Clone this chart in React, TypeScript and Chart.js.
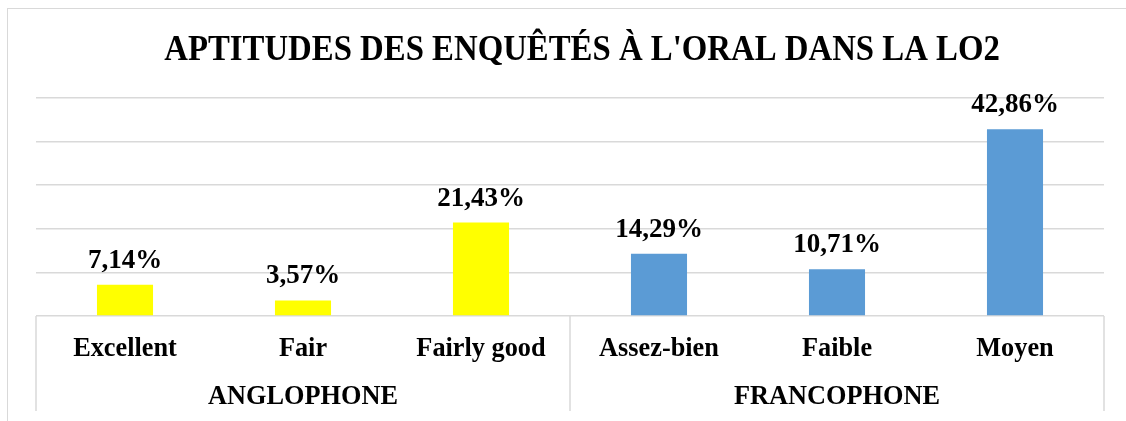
import React, { useEffect, useRef } from "react";
import { Chart, registerables } from "chart.js";

Chart.register(...registerables);

const title = "APTITUDES DES ENQUÊTÉS À L'ORAL DANS LA LO2";
const categories = ["Excellent", "Fair", "Fairly good", "Assez-bien", "Faible", "Moyen"];
const groups = ["ANGLOPHONE", "FRANCOPHONE"];
const groupSizes = [3, 3];
const values = [7.14, 3.57, 21.43, 14.29, 10.71, 42.86];
const barColors = ["#FFFF00", "#FFFF00", "#FFFF00", "#5B9BD5", "#5B9BD5", "#5B9BD5"];
const yMax = 50;
const yStep = 10;

const FONT = '"Liberation Serif", "Times New Roman", serif';
const GRID = "#d9d9d9";

const fmt = (v: number) => v.toFixed(2).replace(".", ",") + "%";

const overlay = {
  id: "overlay",
  afterDraw(chart: any) {
    const ctx = chart.ctx;
    const area = chart.chartArea;
    const x = chart.scales.x;
    ctx.save();
    // title (slightly stretched vertically like the reference)
    ctx.fillStyle = "#000";
    ctx.textAlign = "center";
    ctx.textBaseline = "alphabetic";
    ctx.save();
    ctx.translate((area.left + area.right) / 2 + 12, 51);
    ctx.scale(1, 1.1);
    ctx.font = `bold 32.8px ${FONT}`;
    ctx.fillText(title, 0, 0);
    ctx.restore();

    // data labels
    const meta = chart.getDatasetMeta(0);
    ctx.font = `bold 27px ${FONT}`;
    meta.data.forEach((el: any, i: number) => {
      ctx.fillText(fmt(values[i]), el.x, el.y - 17);
    });

    // category axis
    const n = categories.length;
    const step = (area.right - area.left) / n;
    ctx.strokeStyle = GRID;
    ctx.lineWidth = 1.5;
    const bottom = area.bottom + 95;
    const lineAt = (px: number) => {
      ctx.beginPath();
      ctx.moveTo(px, area.bottom);
      ctx.lineTo(px, bottom);
      ctx.stroke();
    };
    lineAt(area.left);
    let idx = 0;
    groupSizes.forEach((s) => {
      idx += s;
      lineAt(area.left + step * idx);
    });
    ctx.font = `bold 26.3px ${FONT}`;
    categories.forEach((c, i) => {
      ctx.fillText(c, x.getPixelForValue(i), area.bottom + 40);
    });
    let start = 0;
    groups.forEach((g, gi) => {
      const s = groupSizes[gi];
      const cx = area.left + step * (start + s / 2);
      ctx.fillText(g, cx, area.bottom + 88);
      start += s;
    });
    ctx.restore();
  },
};

export default function App() {
  const ref = useRef<HTMLCanvasElement>(null);
  useEffect(() => {
    const chart = new Chart(ref.current!, {
      type: "bar",
      data: {
        labels: categories,
        datasets: [
          {
            data: values,
            backgroundColor: barColors,
            categoryPercentage: 1,
            barPercentage: 0.315,
          },
        ],
      },
      options: {
        animation: false,
        responsive: false,
        devicePixelRatio: 1,
        layout: { padding: { left: 28, right: 22, top: 89, bottom: 105 } },
        plugins: { legend: { display: false }, tooltip: { enabled: false }, title: { display: false } },
        scales: {
          x: { display: false },
          y: {
            min: 0,
            max: yMax,
            ticks: { display: false, stepSize: yStep },
            border: { display: false },
            grid: { color: GRID, lineWidth: 1.5, drawTicks: false },
          },
        },
      },
      plugins: [overlay],
    });
    return () => chart.destroy();
  }, []);
  return (
    <div
      style={{
        position: "absolute",
        left: 7,
        top: 8,
        width: 1119,
        height: 413,
        borderTop: `1px solid ${GRID}`,
        borderLeft: `1px solid ${GRID}`,
        boxSizing: "border-box",
        background: "#fff",
      }}
    >
      <canvas ref={ref} width={1118} height={412} style={{ display: "block" }} />
    </div>
  );
}
